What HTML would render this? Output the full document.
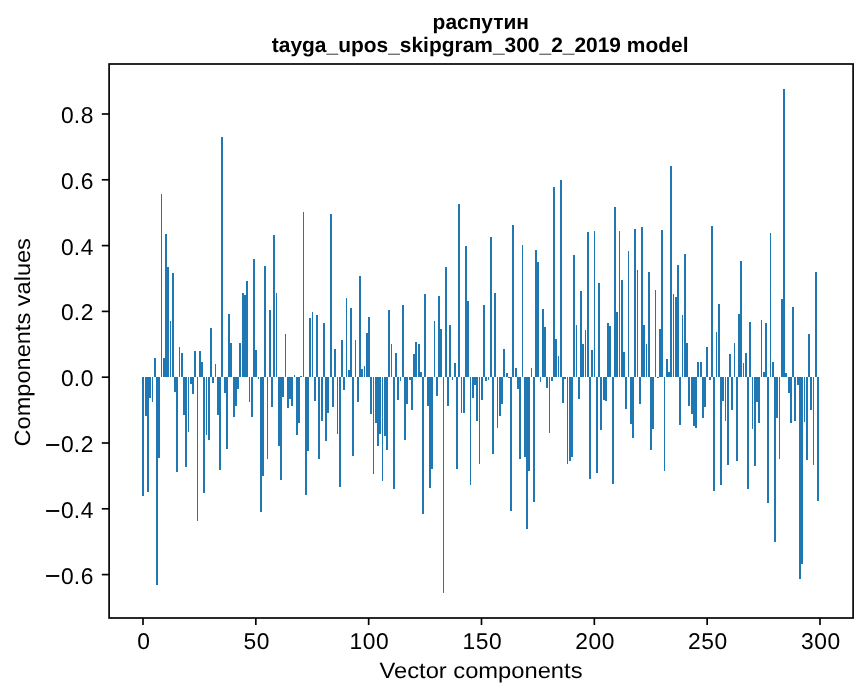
<!DOCTYPE html>
<html><head><meta charset="utf-8"><title>chart</title>
<style>
html,body{margin:0;padding:0;background:#fff;}
body{width:867px;height:696px;overflow:hidden;}
svg{display:block;will-change:transform;text-rendering:geometricPrecision;font-family:"Liberation Sans",sans-serif;}
</style></head><body>
<svg width="867" height="696" viewBox="0 0 867 696">
<rect x="0" y="0" width="867" height="696" fill="#fff"/>
<g fill="#1f77b4" shape-rendering="crispEdges"><rect x="142" y="377" width="2" height="119"/><rect x="145" y="377" width="2" height="39"/><rect x="147" y="377" width="2" height="115"/><rect x="149" y="377" width="2" height="21"/><rect x="152" y="377" width="1" height="25"/><rect x="154" y="358" width="2" height="19"/><rect x="156" y="377" width="2" height="208"/><rect x="158" y="377" width="2" height="81"/><rect x="161" y="194" width="1" height="183"/><rect x="163" y="358" width="2" height="19"/><rect x="165" y="234" width="2" height="143"/><rect x="167" y="267" width="2" height="110"/><rect x="170" y="321" width="1" height="56"/><rect x="172" y="273" width="2" height="104"/><rect x="174" y="377" width="2" height="15"/><rect x="176" y="377" width="2" height="95"/><rect x="179" y="347" width="1" height="30"/><rect x="181" y="353" width="2" height="24"/><rect x="183" y="377" width="2" height="38"/><rect x="185" y="377" width="2" height="90"/><rect x="188" y="377" width="1" height="55"/><rect x="190" y="377" width="2" height="7"/><rect x="192" y="377" width="2" height="17"/><rect x="194" y="351" width="2" height="26"/><rect x="197" y="377" width="1" height="144"/><rect x="199" y="351" width="2" height="26"/><rect x="201" y="362" width="2" height="15"/><rect x="203" y="377" width="2" height="116"/><rect x="206" y="377" width="1" height="58"/><rect x="208" y="377" width="2" height="63"/><rect x="210" y="328" width="2" height="49"/><rect x="212" y="377" width="2" height="6"/><rect x="215" y="364" width="1" height="13"/><rect x="217" y="377" width="2" height="38"/><rect x="219" y="377" width="2" height="93"/><rect x="221" y="137" width="2" height="240"/><rect x="224" y="377" width="2" height="16"/><rect x="226" y="377" width="2" height="72"/><rect x="228" y="314" width="2" height="63"/><rect x="230" y="343" width="2" height="34"/><rect x="233" y="377" width="2" height="40"/><rect x="235" y="377" width="2" height="29"/><rect x="237" y="377" width="2" height="12"/><rect x="239" y="343" width="2" height="34"/><rect x="242" y="293" width="2" height="84"/><rect x="244" y="295" width="2" height="82"/><rect x="246" y="281" width="2" height="96"/><rect x="249" y="377" width="1" height="25"/><rect x="251" y="377" width="2" height="40"/><rect x="253" y="259" width="2" height="118"/><rect x="255" y="350" width="2" height="27"/><rect x="258" y="377" width="1" height="2"/><rect x="260" y="377" width="2" height="135"/><rect x="262" y="377" width="2" height="99"/><rect x="264" y="266" width="2" height="111"/><rect x="267" y="377" width="1" height="82"/><rect x="269" y="310" width="2" height="67"/><rect x="271" y="377" width="2" height="30"/><rect x="273" y="235" width="2" height="142"/><rect x="276" y="293" width="1" height="84"/><rect x="278" y="377" width="2" height="69"/><rect x="280" y="377" width="2" height="103"/><rect x="282" y="377" width="2" height="20"/><rect x="285" y="334" width="1" height="43"/><rect x="287" y="377" width="2" height="31"/><rect x="289" y="377" width="2" height="22"/><rect x="291" y="377" width="2" height="29"/><rect x="294" y="375" width="1" height="2"/><rect x="296" y="377" width="2" height="58"/><rect x="298" y="377" width="2" height="46"/><rect x="300" y="376" width="2" height="1"/><rect x="303" y="212" width="1" height="165"/><rect x="305" y="377" width="2" height="118"/><rect x="307" y="377" width="2" height="74"/><rect x="309" y="318" width="2" height="59"/><rect x="312" y="312" width="1" height="65"/><rect x="314" y="377" width="2" height="24"/><rect x="316" y="315" width="2" height="62"/><rect x="318" y="377" width="2" height="82"/><rect x="321" y="377" width="2" height="44"/><rect x="323" y="323" width="2" height="54"/><rect x="325" y="377" width="2" height="64"/><rect x="327" y="377" width="2" height="36"/><rect x="330" y="214" width="2" height="163"/><rect x="332" y="377" width="2" height="30"/><rect x="334" y="349" width="2" height="28"/><rect x="337" y="377" width="1" height="57"/><rect x="339" y="377" width="2" height="110"/><rect x="341" y="340" width="2" height="37"/><rect x="343" y="377" width="2" height="13"/><rect x="346" y="298" width="1" height="79"/><rect x="348" y="370" width="2" height="7"/><rect x="350" y="308" width="2" height="69"/><rect x="352" y="377" width="2" height="79"/><rect x="355" y="340" width="1" height="37"/><rect x="357" y="377" width="2" height="25"/><rect x="359" y="276" width="2" height="101"/><rect x="361" y="369" width="2" height="8"/><rect x="364" y="366" width="1" height="11"/><rect x="366" y="333" width="2" height="44"/><rect x="368" y="317" width="2" height="60"/><rect x="370" y="377" width="2" height="37"/><rect x="373" y="377" width="1" height="97"/><rect x="375" y="377" width="2" height="46"/><rect x="377" y="377" width="2" height="69"/><rect x="379" y="377" width="2" height="57"/><rect x="382" y="377" width="1" height="104"/><rect x="384" y="377" width="2" height="59"/><rect x="386" y="377" width="2" height="73"/><rect x="388" y="310" width="2" height="67"/><rect x="391" y="344" width="1" height="33"/><rect x="393" y="377" width="2" height="112"/><rect x="395" y="353" width="2" height="24"/><rect x="397" y="377" width="2" height="23"/><rect x="400" y="377" width="1" height="4"/><rect x="402" y="305" width="2" height="72"/><rect x="404" y="377" width="2" height="63"/><rect x="406" y="377" width="2" height="27"/><rect x="409" y="377" width="2" height="3"/><rect x="411" y="377" width="2" height="33"/><rect x="413" y="354" width="2" height="23"/><rect x="415" y="342" width="2" height="35"/><rect x="418" y="344" width="2" height="33"/><rect x="420" y="372" width="2" height="5"/><rect x="422" y="377" width="2" height="137"/><rect x="424" y="294" width="2" height="83"/><rect x="427" y="377" width="2" height="29"/><rect x="429" y="377" width="2" height="111"/><rect x="431" y="377" width="2" height="92"/><rect x="434" y="321" width="1" height="56"/><rect x="436" y="377" width="2" height="19"/><rect x="438" y="296" width="2" height="81"/><rect x="440" y="329" width="2" height="48"/><rect x="443" y="377" width="1" height="216"/><rect x="445" y="267" width="2" height="110"/><rect x="447" y="377" width="2" height="29"/><rect x="449" y="325" width="2" height="52"/><rect x="452" y="377" width="1" height="3"/><rect x="454" y="363" width="2" height="14"/><rect x="456" y="377" width="2" height="92"/><rect x="458" y="204" width="2" height="173"/><rect x="461" y="377" width="1" height="36"/><rect x="463" y="377" width="2" height="36"/><rect x="465" y="246" width="2" height="131"/><rect x="467" y="301" width="2" height="76"/><rect x="470" y="377" width="1" height="108"/><rect x="472" y="377" width="2" height="21"/><rect x="474" y="377" width="2" height="8"/><rect x="476" y="377" width="2" height="44"/><rect x="479" y="377" width="1" height="87"/><rect x="481" y="377" width="2" height="23"/><rect x="483" y="305" width="2" height="72"/><rect x="485" y="377" width="2" height="4"/><rect x="488" y="377" width="1" height="3"/><rect x="490" y="237" width="2" height="140"/><rect x="492" y="377" width="2" height="77"/><rect x="494" y="293" width="2" height="84"/><rect x="497" y="377" width="1" height="51"/><rect x="499" y="377" width="2" height="39"/><rect x="501" y="377" width="2" height="27"/><rect x="503" y="349" width="2" height="28"/><rect x="506" y="373" width="2" height="4"/><rect x="508" y="377" width="2" height="1"/><rect x="510" y="377" width="2" height="134"/><rect x="512" y="225" width="2" height="152"/><rect x="515" y="368" width="2" height="9"/><rect x="517" y="377" width="2" height="12"/><rect x="519" y="377" width="2" height="82"/><rect x="522" y="245" width="1" height="132"/><rect x="524" y="377" width="2" height="80"/><rect x="526" y="377" width="2" height="152"/><rect x="528" y="377" width="2" height="94"/><rect x="531" y="368" width="1" height="9"/><rect x="533" y="377" width="2" height="125"/><rect x="535" y="250" width="2" height="127"/><rect x="537" y="262" width="2" height="115"/><rect x="540" y="377" width="1" height="5"/><rect x="542" y="309" width="2" height="68"/><rect x="544" y="327" width="2" height="50"/><rect x="546" y="377" width="2" height="11"/><rect x="549" y="377" width="1" height="56"/><rect x="551" y="377" width="2" height="4"/><rect x="553" y="187" width="2" height="190"/><rect x="555" y="339" width="2" height="38"/><rect x="558" y="356" width="1" height="21"/><rect x="560" y="180" width="2" height="197"/><rect x="562" y="377" width="2" height="26"/><rect x="564" y="377" width="2" height="2"/><rect x="567" y="377" width="1" height="87"/><rect x="569" y="377" width="2" height="84"/><rect x="571" y="377" width="2" height="80"/><rect x="573" y="255" width="2" height="122"/><rect x="576" y="325" width="1" height="52"/><rect x="578" y="377" width="2" height="22"/><rect x="580" y="291" width="2" height="86"/><rect x="582" y="344" width="2" height="33"/><rect x="585" y="330" width="1" height="47"/><rect x="587" y="232" width="2" height="145"/><rect x="589" y="377" width="2" height="102"/><rect x="591" y="350" width="2" height="27"/><rect x="594" y="231" width="1" height="146"/><rect x="596" y="377" width="2" height="96"/><rect x="598" y="283" width="2" height="94"/><rect x="600" y="377" width="2" height="53"/><rect x="603" y="377" width="2" height="23"/><rect x="605" y="377" width="2" height="24"/><rect x="607" y="323" width="2" height="54"/><rect x="609" y="326" width="2" height="51"/><rect x="612" y="377" width="2" height="107"/><rect x="614" y="207" width="2" height="170"/><rect x="616" y="312" width="2" height="65"/><rect x="619" y="231" width="1" height="146"/><rect x="621" y="280" width="2" height="97"/><rect x="623" y="352" width="2" height="25"/><rect x="625" y="377" width="2" height="32"/><rect x="628" y="251" width="1" height="126"/><rect x="630" y="377" width="2" height="47"/><rect x="632" y="377" width="2" height="61"/><rect x="634" y="229" width="2" height="148"/><rect x="637" y="270" width="1" height="107"/><rect x="639" y="377" width="2" height="27"/><rect x="641" y="227" width="2" height="150"/><rect x="643" y="325" width="2" height="52"/><rect x="646" y="344" width="1" height="33"/><rect x="648" y="272" width="2" height="105"/><rect x="650" y="377" width="2" height="73"/><rect x="652" y="377" width="2" height="52"/><rect x="655" y="290" width="1" height="87"/><rect x="657" y="377" width="2" height="1"/><rect x="659" y="329" width="2" height="48"/><rect x="661" y="230" width="2" height="147"/><rect x="664" y="377" width="1" height="94"/><rect x="666" y="359" width="2" height="18"/><rect x="668" y="372" width="2" height="5"/><rect x="670" y="166" width="2" height="211"/><rect x="673" y="294" width="1" height="83"/><rect x="675" y="297" width="2" height="80"/><rect x="677" y="265" width="2" height="112"/><rect x="679" y="377" width="2" height="48"/><rect x="682" y="315" width="1" height="62"/><rect x="684" y="254" width="2" height="123"/><rect x="686" y="343" width="2" height="34"/><rect x="688" y="377" width="2" height="29"/><rect x="691" y="377" width="2" height="37"/><rect x="693" y="377" width="2" height="49"/><rect x="695" y="377" width="2" height="51"/><rect x="697" y="362" width="2" height="15"/><rect x="700" y="362" width="2" height="15"/><rect x="702" y="377" width="2" height="41"/><rect x="704" y="377" width="2" height="30"/><rect x="706" y="347" width="2" height="30"/><rect x="709" y="377" width="2" height="3"/><rect x="711" y="226" width="2" height="151"/><rect x="713" y="377" width="2" height="114"/><rect x="716" y="332" width="1" height="45"/><rect x="718" y="304" width="2" height="73"/><rect x="720" y="377" width="2" height="108"/><rect x="722" y="377" width="2" height="24"/><rect x="725" y="377" width="1" height="44"/><rect x="727" y="377" width="2" height="88"/><rect x="729" y="354" width="2" height="23"/><rect x="731" y="377" width="2" height="33"/><rect x="734" y="343" width="1" height="34"/><rect x="736" y="377" width="2" height="84"/><rect x="738" y="314" width="2" height="63"/><rect x="740" y="261" width="2" height="116"/><rect x="743" y="363" width="1" height="14"/><rect x="745" y="353" width="2" height="24"/><rect x="747" y="377" width="2" height="112"/><rect x="749" y="322" width="2" height="55"/><rect x="752" y="377" width="1" height="52"/><rect x="754" y="377" width="2" height="89"/><rect x="756" y="377" width="2" height="25"/><rect x="758" y="377" width="2" height="46"/><rect x="761" y="320" width="1" height="57"/><rect x="763" y="372" width="2" height="5"/><rect x="765" y="323" width="2" height="54"/><rect x="767" y="377" width="2" height="126"/><rect x="770" y="233" width="1" height="144"/><rect x="772" y="362" width="2" height="15"/><rect x="774" y="377" width="2" height="165"/><rect x="776" y="377" width="2" height="41"/><rect x="779" y="377" width="1" height="82"/><rect x="781" y="299" width="2" height="78"/><rect x="783" y="89" width="2" height="288"/><rect x="785" y="373" width="2" height="4"/><rect x="788" y="377" width="2" height="16"/><rect x="790" y="377" width="2" height="46"/><rect x="792" y="307" width="2" height="70"/><rect x="794" y="377" width="2" height="44"/><rect x="797" y="377" width="2" height="8"/><rect x="799" y="377" width="2" height="202"/><rect x="801" y="377" width="2" height="187"/><rect x="804" y="377" width="1" height="45"/><rect x="806" y="377" width="2" height="83"/><rect x="808" y="334" width="2" height="43"/><rect x="810" y="377" width="2" height="33"/><rect x="813" y="377" width="1" height="88"/><rect x="815" y="272" width="2" height="105"/><rect x="817" y="377" width="2" height="124"/></g>
<rect x="109.1" y="64.0" width="744.00" height="554.00" fill="none" stroke="#000" stroke-width="1.67"/>
<g fill="#000"><line stroke="#000" stroke-width="1.67" x1="143.00" y1="618.0" x2="143.00" y2="625.00"/><text x="137.21" y="648.9" font-size="22.8">0</text><line stroke="#000" stroke-width="1.67" x1="255.83" y1="618.0" x2="255.83" y2="625.00"/><text x="243.41 256.66" y="648.9" font-size="22.8">50</text><line stroke="#000" stroke-width="1.67" x1="368.66" y1="618.0" x2="368.66" y2="625.00"/><text x="349.62 362.87 376.12" y="648.9" font-size="22.8">100</text><line stroke="#000" stroke-width="1.67" x1="481.49" y1="618.0" x2="481.49" y2="625.00"/><text x="462.45 475.70 488.95" y="648.9" font-size="22.8">150</text><line stroke="#000" stroke-width="1.67" x1="594.32" y1="618.0" x2="594.32" y2="625.00"/><text x="575.28 588.53 601.78" y="648.9" font-size="22.8">200</text><line stroke="#000" stroke-width="1.67" x1="707.15" y1="618.0" x2="707.15" y2="625.00"/><text x="688.11 701.36 714.61" y="648.9" font-size="22.8">250</text><line stroke="#000" stroke-width="1.67" x1="819.98" y1="618.0" x2="819.98" y2="625.00"/><text x="800.94 814.19 827.44" y="648.9" font-size="22.8">300</text><line stroke="#000" stroke-width="1.67" x1="101.80" y1="114.00" x2="109.1" y2="114.00"/><text x="60.9 73.8 80.8" y="122.90" font-size="22.8">0.8</text><line stroke="#000" stroke-width="1.67" x1="101.80" y1="179.80" x2="109.1" y2="179.80"/><text x="60.9 73.8 80.8" y="188.70" font-size="22.8">0.6</text><line stroke="#000" stroke-width="1.67" x1="101.80" y1="245.60" x2="109.1" y2="245.60"/><text x="60.9 73.8 80.8" y="254.50" font-size="22.8">0.4</text><line stroke="#000" stroke-width="1.67" x1="101.80" y1="311.40" x2="109.1" y2="311.40"/><text x="60.9 73.8 80.8" y="320.30" font-size="22.8">0.2</text><line stroke="#000" stroke-width="1.67" x1="101.80" y1="377.20" x2="109.1" y2="377.20"/><text x="60.9 73.8 80.8" y="386.10" font-size="22.8">0.0</text><line stroke="#000" stroke-width="1.67" x1="101.80" y1="443.00" x2="109.1" y2="443.00"/><text y="451.90" font-size="22.8"><tspan x="44.7" dy="1.9" font-size="27.1">−</tspan><tspan x="60.9 73.8 80.8" dy="-1.9">0.2</tspan></text><line stroke="#000" stroke-width="1.67" x1="101.80" y1="508.80" x2="109.1" y2="508.80"/><text y="517.70" font-size="22.8"><tspan x="44.7" dy="1.9" font-size="27.1">−</tspan><tspan x="60.9 73.8 80.8" dy="-1.9">0.4</tspan></text><line stroke="#000" stroke-width="1.67" x1="101.80" y1="574.60" x2="109.1" y2="574.60"/><text y="583.50" font-size="22.8"><tspan x="44.7" dy="1.9" font-size="27.1">−</tspan><tspan x="60.9 73.8 80.8" dy="-1.9">0.6</tspan></text></g>
<text x="481.0" y="677.5" text-anchor="middle" font-size="22.0" font-weight="normal" textLength="203" lengthAdjust="spacingAndGlyphs">Vector components</text>
<text transform="translate(29.5,342.3) rotate(-90)" text-anchor="middle" font-size="22.0" textLength="208.4" lengthAdjust="spacingAndGlyphs">Components values</text>
<text x="480.8" y="29.2" text-anchor="middle" font-size="20.95" font-weight="bold">распутин</text>
<text x="480.15" y="51.7" text-anchor="middle" font-size="20.95" font-weight="bold">tayga_upos_skipgram_300_2_2019 model</text>
</svg>
</body></html>
